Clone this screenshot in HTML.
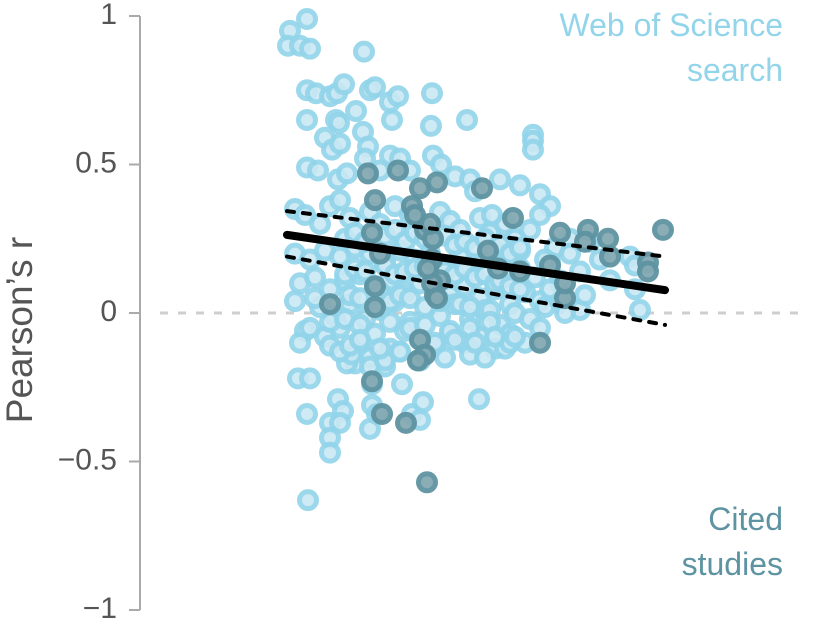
<!DOCTYPE html>
<html><head><meta charset="utf-8"><style>
html,body{margin:0;padding:0;background:#fff;}
svg{display:block;font-family:"Liberation Sans",Arial,sans-serif;}
</style></head><body>
<svg id="chart" width="828" height="639" viewBox="0 0 828 639">
  <g id="axis"></g>
  <line x1="160" y1="313" x2="805" y2="313" stroke="#cfcfcf" stroke-width="3" stroke-dasharray="8 10"/>
  <g id="light"></g>
  <g id="dark"></g>
  <g id="fit"></g>
  <text x="22" y="330" transform="rotate(-90 22 330)" text-anchor="middle" dominant-baseline="middle" font-size="37" fill="#555">Pearson’s r</text>
  <text x="783" y="36" text-anchor="end" font-size="32" fill="#92d4ea">Web of Science</text>
  <text x="783" y="81" text-anchor="end" font-size="32" fill="#92d4ea">search</text>
  <text x="783" y="530" text-anchor="end" font-size="32" fill="#5e93a1">Cited</text>
  <text x="783" y="575" text-anchor="end" font-size="32" fill="#5e93a1">studies</text>
</svg>
<script>
const yTicks=[1,0.5,0,-0.5,-1];
const yTickLabels=["1","0.5","0","\u22120.5","\u22121"];
const lightX=[4,7.4,3.6,6,8,18.8,7.4,9.2,12,13.4,14.8,20,21,24,25.6,32.4,7.4,13.2,17.2,13.8,24.4,32.2,39.4,11,12.4,14,18.6,19.6,24,26,32.6,52.6,52.6,52.6,7.4,9.6,13.6,15.4,19,22,28,34.2,37,40,41,46,50,54,56,5,7,10,12,14,16,20,22,25,28,30,34,36,38,42,44,47,49,52,54,57,60,5,8,11,14,17,20,23,26,29,32,35,38,41,44,47,50,53,56,6,9,12,15,18,21,24,27,30,33,36,39,42,45,48,51,54,58,5,10,13,16,19,22,25,28,31,34,37,40,43,46,49,52,55,7,11,14,18,21,24,27,30,33,36,39,42,45,48,51,54,6,12,17,20,23,26,30,35,40,43,47,5.6,8,7.4,12,12,12,15.4,13.6,14.6,14,20,20.4,20,20.4,21.4,26.4,28.4,30.6,30,41.8,7.6,16.4,23,30,8,9,62,72,73,73,74,58,62,58,55,49,47,50,44.4,64,66,68,60,63,56,59,
15,17,19,23,25,27,29,31,35,37,39,41,43,45,46,48,50,15,17,19,23,25,27,29,31,35,37,39,41,43,45,46,48,50,16,18,22,24,26,28,34,38,40,44,12,15,18,24,28,31,36,40,44,48,14,16,18,22,26,33,37,41,45,49];
const lightR=[.95,.99,.9,.9,.89,.88,.75,.74,.73,.74,.77,.75,.76,.71,.73,.74,.65,.65,.68,.64,.65,.63,.65,.59,.55,.57,.61,.56,.53,.52,.53,.6,.58,.55,.49,.48,.45,.47,.52,.48,.48,.5,.46,.45,.41,.45,.43,.4,.36,.35,.33,.3,.36,.38,.32,.34,.3,.36,.33,.3,.34,.31,.28,.32,.27,.3,.25,.28,.33,.22,.25,.2,.18,.21,.19,.22,.2,.17,.21,.18,.2,.16,.19,.17,.14,.18,.15,.12,.17,.1,.12,.08,.11,.13,.09,.11,.07,.1,.12,.06,.09,.05,.08,.03,.07,.04,.1,.04,.02,-.01,.03,-.02,.01,.04,-.03,.02,-.01,.03,-.02,.01,-.04,0,-.02,.02,-.06,-.08,-.05,-.1,-.07,-.12,-.06,-.09,-.11,-.07,-.1,-.08,-.12,-.07,-.1,-.05,-.1,-.11,-.17,-.15,-.18,-.13,-.16,-.15,-.14,-.15,-.12,-.22,-.22,-.34,-.37,-.42,-.47,-.17,-.29,-.33,-.37,-.18,-.24,-.39,-.31,-.34,-.24,-.34,-.3,-.36,-.29,-.63,-.14,-.16,-.16,-.05,.05,.01,.19,.16,.08,.01,.11,.14,.04,.18,.18,.23,.21,.33,.24,.18,.11,.2,.06,.08,0,
.25,.27,.24,.26,.28,.24,.27,.25,.26,.23,.24,.22,.25,.21,.23,.2,.22,.13,.15,.14,.16,.13,.14,.15,.16,.14,.13,.15,.12,.13,.1,.11,.09,.08,.06,.05,.07,.04,.06,.05,.04,.03,.02,.01,-.03,-.02,-.04,-.03,-.05,-.04,-.06,-.05,-.03,-.1,-.13,-.11,-.09,-.12,-.13,-.1,-.09,-.1,-.08,-.08];
const darkX=[19.6,25.6,33.4,30,21,28.4,29,31,32.6,42.4,48.6,20.4,22,32.4,34,33,12,21,21,32.4,33.4,30,31,29.6,20.4,22.4,27.2,31.4,54,59,59,56,58,63.6,63,67.6,68,75.6,75.6,78.6,50,43.6,45.6,32,31.6];
const darkR=[.47,.48,.44,.42,.38,.36,.33,.28,.25,.42,.32,.27,.2,.18,.11,.06,.03,.09,.02,.1,.05,-.09,-.14,-.16,-.23,-.34,-.37,-.57,-.1,.05,.1,.16,.27,.28,.24,.25,.19,.17,.14,.28,.14,.21,.15,.3,.15];
const fitX=[3.4,79];
const fitMid=[.263,.077];
const fitUpper=[.343,.19];
const fitLower=[.19,-.04];

const xS=v=>270+v*5;
const yS=v=>313-v*297;
const NS="http://www.w3.org/2000/svg";
function mk(tag,attrs,parent){const e=document.createElementNS(NS,tag);for(const k in attrs)e.setAttribute(k,attrs[k]);parent.appendChild(e);return e;}

const ax=document.getElementById('axis');
const spine=mk('line',{x1:140,y1:yS(1),x2:140,y2:yS(-1),stroke:'#aaa','stroke-width':2},ax);


yTicks.forEach((t,i)=>{
  const tk=mk('line',{x1:129,y1:yS(t),x2:140,y2:yS(t),stroke:'#aaa','stroke-width':2},ax);
  
  
  const tl=mk('text',{x:117,y:yS(t),'text-anchor':'end','dominant-baseline':'middle','font-size':30,fill:'#555'},ax);
  tl.textContent=yTickLabels[i];
  
  
});

const lg=document.getElementById('light');
lightX.forEach((x,i)=>{
  const c=mk('circle',{cx:xS(x),cy:yS(lightR[i]),r:8.5,fill:'#c9e8f3',stroke:'#92d4ea','stroke-width':5,opacity:0.9},lg);
  
  
});
const dg=document.getElementById('dark');
darkX.forEach((x,i)=>{
  const c=mk('circle',{cx:xS(x),cy:yS(darkR[i]),r:8.5,fill:'#84a9b3',stroke:'#5e93a1','stroke-width':5,opacity:0.95},dg);
  
  
});

const fg=document.getElementById('fit');
[[fitUpper,'upper-ci-line'],[fitLower,'lower-ci-line']].forEach(([arr,name])=>{
  const l=mk('line',{x1:xS(fitX[0]),y1:yS(arr[0]),x2:xS(fitX[1]),y2:yS(arr[1]),stroke:'#000','stroke-width':4,'stroke-dasharray':'7 9','stroke-linecap':'round'},fg);
  
  
});
const m=mk('line',{x1:xS(fitX[0]),y1:yS(fitMid[0]),x2:xS(fitX[1]),y2:yS(fitMid[1]),stroke:'#000','stroke-width':8,'stroke-linecap':'round'},fg);


</script>
</body></html>
